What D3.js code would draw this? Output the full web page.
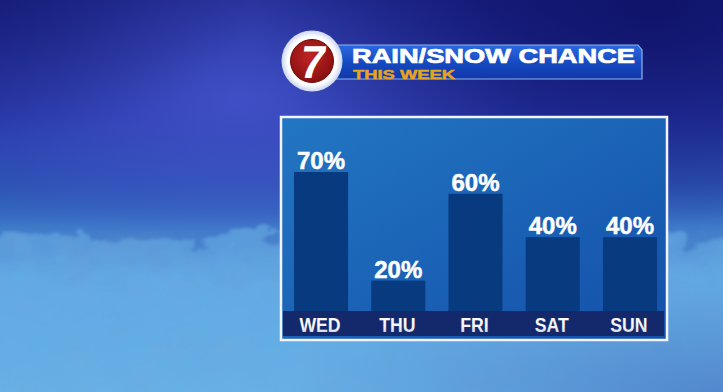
<!DOCTYPE html>
<html>
<head>
<meta charset="utf-8">
<script src="https://cdn.jsdelivr.net/npm/d3@7"></script>
<style>
  html, body { margin: 0; padding: 0; background: #1c2a8c; overflow: hidden; }
  svg { display: block; }
</style>
</head>
<body>
<div id="chart"></div>
<script>
var width = 723,
    height = 392;

// chart data
var days = ["WED", "THU", "FRI", "SAT", "SUN"];
var chances = [70, 20, 60, 40, 40];
var titleText = "RAIN/SNOW CHANCE";
var subText = "THIS WEEK";

var svg = d3.select("#chart").append("svg")
    .attr("width", width)
    .attr("height", height);

var defs = svg.append("defs");

var addStops = function (grad, stops) {
    stops.forEach(function (s) {
        grad.append("stop").attr("offset", s[0]).attr("stop-color", s[1])
            .attr("stop-opacity", s.length > 2 ? s[2] : 1);
    });
    return grad;
};

// background
addStops(defs.append("linearGradient").attr("id", "bg").attr("x1", 0).attr("y1", 0).attr("x2", 0).attr("y2", 1),
    [["0%", "#1b2488"], ["30%", "#2737a8"], ["47%", "#2d52b4"], ["58%", "#3872c4"], ["100%", "#4a8ed2"]]);
addStops(defs.append("radialGradient").attr("id", "glow").attr("cx", 0.33).attr("cy", 0.25).attr("r", 0.42),
    [["0%", "#4858d0", 0.75], ["100%", "#4858d0", 0]]);
addStops(defs.append("radialGradient").attr("id", "dark").attr("cx", 0.9).attr("cy", 0.02).attr("r", 0.55),
    [["0%", "#0d1064", 0.85], ["100%", "#0d1064", 0]]);
addStops(defs.append("radialGradient").attr("id", "dark2").attr("cx", 0.0).attr("cy", 0.0).attr("r", 0.35),
    [["0%", "#141a70", 0.6], ["100%", "#141a70", 0]]);
addStops(defs.append("linearGradient").attr("id", "cloudG").attr("x1", 0).attr("y1", 0).attr("x2", 0).attr("y2", 1),
    [["0%", "#5898d8"], ["25%", "#62aae4"], ["100%", "#68b2e6"]]);
addStops(defs.append("radialGradient").attr("id", "cloudDark").attr("cx", 1.0).attr("cy", 1.0).attr("r", 0.6),
    [["0%", "#4a78c4", 0.7], ["100%", "#4a78c4", 0]]);

var fluff = defs.append("filter").attr("id", "fluff")
    .attr("x", "-10%").attr("y", "-30%").attr("width", "120%").attr("height", "160%");
fluff.append("feTurbulence").attr("type", "fractalNoise")
    .attr("baseFrequency", "0.028 0.045").attr("numOctaves", 5).attr("seed", 11).attr("result", "noise");
fluff.append("feDisplacementMap").attr("in", "SourceGraphic").attr("in2", "noise")
    .attr("scale", 44).attr("xChannelSelector", "R").attr("yChannelSelector", "G").attr("result", "disp");
fluff.append("feGaussianBlur").attr("in", "disp").attr("stdDeviation", 1.6);

var haze = defs.append("filter").attr("id", "haze").attr("y", "-50%").attr("height", "200%");
haze.append("feGaussianBlur").attr("stdDeviation", 10);

var grain = defs.append("filter").attr("id", "grain");
grain.append("feTurbulence").attr("type", "fractalNoise")
    .attr("baseFrequency", "0.03").attr("numOctaves", 3).attr("seed", 7).attr("result", "n");
grain.append("feColorMatrix").attr("in", "n").attr("type", "matrix")
    .attr("values", "0 0 0 0 0.2  0 0 0 0 0.35  0 0 0 0 0.6  0 0 0 -1.2 0.75");

svg.append("rect").attr("width", width).attr("height", height).attr("fill", "url(#bg)");
svg.append("rect").attr("width", width).attr("height", height).attr("fill", "url(#glow)");
svg.append("rect").attr("width", width).attr("height", height).attr("fill", "url(#dark)");
svg.append("rect").attr("width", width).attr("height", height).attr("fill", "url(#dark2)");
svg.append("rect").attr("x", -20).attr("y", 228).attr("width", width + 40).attr("height", 200)
    .attr("fill", "#4f8cd2").attr("opacity", 0.6).attr("filter", "url(#haze)");
svg.append("rect").attr("x", -30).attr("y", 236).attr("width", width + 60).attr("height", 200)
    .attr("fill", "url(#cloudG)").attr("filter", "url(#fluff)");
svg.append("rect").attr("x", 0).attr("y", 245).attr("width", width).attr("height", 147)
    .attr("filter", "url(#grain)").attr("opacity", 0.25);
svg.append("rect").attr("x", 0).attr("y", 200).attr("width", width).attr("height", 192)
    .attr("fill", "url(#cloudDark)");

// title banner
addStops(defs.append("linearGradient").attr("id", "bannerG").attr("x1", 0).attr("y1", 0).attr("x2", 0).attr("y2", 1),
    [["0%", "#2a6ae0"], ["55%", "#1548c0"], ["100%", "#1038a8"]]);

var title = svg.append("g");
title.append("path")
    .attr("d", "M330,45 L638,45 L642,50 L642,79 L330,79 Z")
    .attr("fill", "url(#bannerG)")
    .attr("stroke", "#8fb4ee").attr("stroke-width", 1.2);

title.append("text")
    .attr("x", 352).attr("y", 62.5)
    .attr("textLength", 283).attr("lengthAdjust", "spacingAndGlyphs")
    .style("font-family", "'Liberation Sans', Arial, sans-serif")
    .style("font-weight", "bold").style("font-size", "20px")
    .style("fill", "#ffffff").style("stroke", "#ffffff").style("stroke-width", 0.7)
    .text(titleText);

title.append("text")
    .attr("x", 353).attr("y", 79)
    .attr("textLength", 102).attr("lengthAdjust", "spacingAndGlyphs")
    .style("font-family", "'Liberation Sans', Arial, sans-serif")
    .style("font-weight", "bold").style("font-size", "13.5px")
    .style("fill", "#e8a31a").style("stroke", "#e8a31a").style("stroke-width", 0.5)
    .text(subText);

// logo
addStops(defs.append("radialGradient").attr("id", "redG").attr("cx", 0.45).attr("cy", 0.4).attr("r", 0.6),
    [["0%", "#c02424"], ["100%", "#8a1010"]]);
addStops(defs.append("radialGradient").attr("id", "ringG").attr("cx", 0.5).attr("cy", 0.5).attr("r", 0.5),
    [["80%", "#ffffff"], ["100%", "#c8d4f0"]]);

title.append("circle").attr("cx", 312).attr("cy", 61).attr("r", 30.5).attr("fill", "url(#ringG)");
title.append("circle").attr("cx", 312).attr("cy", 61).attr("r", 21.5).attr("fill", "url(#redG)")
    .attr("stroke", "#6e0a0a").attr("stroke-width", 1);
title.append("text")
    .attr("x", 313).attr("y", 78)
    .attr("text-anchor", "middle")
    .attr("transform", "skewX(-8) translate(9,0)")
    .style("font-family", "'Liberation Sans', Arial, sans-serif")
    .style("font-weight", "bold").style("font-size", "46px")
    .style("fill", "#ffffff")
    .text("7");

// chart panel
addStops(defs.append("linearGradient").attr("id", "panelG").attr("x1", 0).attr("y1", 0).attr("x2", 1).attr("y2", 1),
    [["0%", "#2276c2"], ["100%", "#1450aa"]]);
addStops(defs.append("linearGradient").attr("id", "dayG").attr("x1", 0).attr("y1", 0).attr("x2", 0).attr("y2", 1),
    [["0%", "#ffffff"], ["60%", "#f4f4f4"], ["100%", "#c4c6cc"]]);

var panel = {x: 281, y: 117, w: 386, h: 223};
var bandTop = 311, bandBottom = 336;

svg.append("rect")
    .attr("x", panel.x).attr("y", panel.y)
    .attr("width", panel.w).attr("height", panel.h)
    .attr("fill", "url(#panelG)")
    .attr("stroke", "#f2f4fa").attr("stroke-width", 2.5);

svg.append("rect")
    .attr("x", panel.x + 2).attr("y", bandTop)
    .attr("width", panel.w - 5).attr("height", bandBottom - bandTop)
    .attr("fill", "#14296c");

var x = d3.scaleBand()
    .domain(days)
    .range([294, 657])
    .paddingInner(0.3)
    .paddingOuter(0);

var y = d3.scaleLinear()
    .domain([6, 70])
    .range([bandTop, 172]);

var rows = days.map(function (d, i) { return {day: d, val: chances[i]}; });

svg.selectAll(".bar")
    .data(rows)
    .enter()
    .append("rect")
    .attr("class", "bar")
    .attr("x", function (d) { return x(d.day); })
    .attr("y", function (d) { return y(d.val); })
    .attr("width", x.bandwidth())
    .attr("height", function (d) { return bandTop - y(d.val); })
    .style("fill", "#083a80");

svg.selectAll(".val")
    .data(rows)
    .enter()
    .append("text")
    .attr("class", "val")
    .attr("x", function (d) { return x(d.day) + x.bandwidth() / 2; })
    .attr("y", function (d) { return y(d.val) - 3; })
    .attr("text-anchor", "middle")
    .style("font-family", "'Liberation Sans', Arial, sans-serif")
    .style("font-weight", "bold").style("font-size", "24px")
    .style("fill", "#ffffff").style("stroke", "#ffffff").style("stroke-width", 0.5)
    .text(function (d) { return d.val + "%"; });

// day labels: a little condensed like the broadcast font
svg.selectAll(".day")
    .data(rows)
    .enter()
    .append("text")
    .attr("class", "day")
    .attr("x", function (d) { return x(d.day) + x.bandwidth() / 2 - 1; })
    .attr("y", 332)
    .attr("text-anchor", "middle")
    .style("font-family", "'Liberation Sans', Arial, sans-serif")
    .style("font-weight", "bold").style("font-size", "21px")
    .style("fill", "url(#dayG)")
    .text(function (d) { return d.day; })
    .each(function () {
        var w = this.getComputedTextLength();
        d3.select(this).attr("textLength", w * 0.84).attr("lengthAdjust", "spacingAndGlyphs");
    });
</script>
</body>
</html>
